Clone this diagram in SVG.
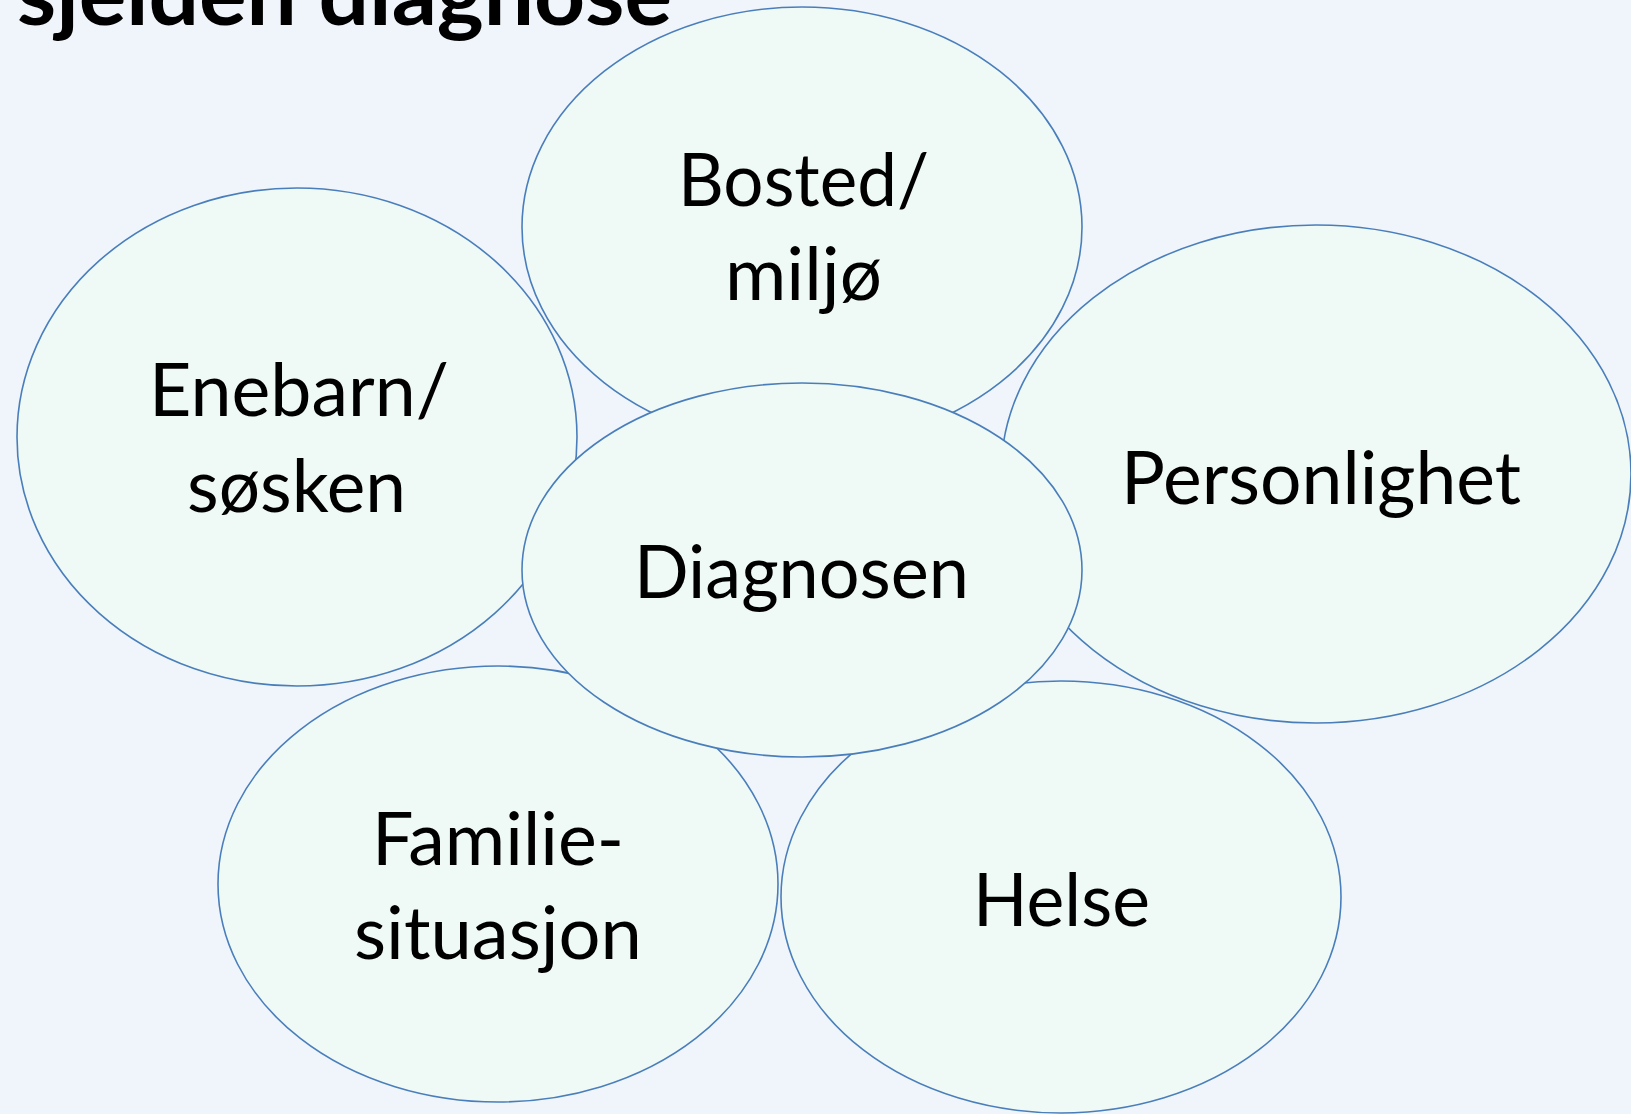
<svg xmlns="http://www.w3.org/2000/svg" width="1631" height="1114" viewBox="0 0 1631 1114">
<style>
.bg{fill:#eff5fa}
.node ellipse{fill:#effaf6;stroke:#4a7ebb;stroke-width:1.6}
.lbl{font-family:Lato,"Open Sans","Liberation Sans",sans-serif;font-size:74px;fill:#000;text-anchor:start}
.title{font-family:Lato,"Open Sans","Liberation Sans",sans-serif;font-size:86px;font-weight:bold;fill:#000}
</style>
<rect class="bg" x="0" y="0" width="1631" height="1114"/>
<text class="title" x="17" y="25" textLength="655" lengthAdjust="spacingAndGlyphs">sjelden diagnose</text>
<g id="connectors"></g>
<g id="node-bosted" class="node">
<ellipse cx="802" cy="227" rx="280" ry="220"/>
<text class="lbl" x="678" y="206" textLength="251" lengthAdjust="spacingAndGlyphs">Bosted/</text>
<text class="lbl" x="725" y="300" textLength="157" lengthAdjust="spacingAndGlyphs">miljø</text>
</g>
<g id="node-enebarn" class="node">
<ellipse cx="297" cy="437" rx="280" ry="249"/>
<text class="lbl" x="149" y="416" textLength="300" lengthAdjust="spacingAndGlyphs">Enebarn/</text>
<text class="lbl" x="187" y="512" textLength="219" lengthAdjust="spacingAndGlyphs">søsken</text>
</g>
<g id="node-personlighet" class="node">
<ellipse cx="1316" cy="474" rx="315" ry="249"/>
<text class="lbl" x="1121" y="504" textLength="400" lengthAdjust="spacingAndGlyphs">Personlighet</text>
</g>
<g id="node-familie" class="node">
<ellipse cx="498" cy="884" rx="280" ry="218"/>
<text class="lbl" x="372" y="865" textLength="252" lengthAdjust="spacingAndGlyphs">Familie-</text>
<text class="lbl" x="354" y="959" textLength="288" lengthAdjust="spacingAndGlyphs">situasjon</text>
</g>
<g id="node-helse" class="node">
<ellipse cx="1061" cy="897" rx="280" ry="216"/>
<text class="lbl" x="973" y="926" textLength="177" lengthAdjust="spacingAndGlyphs">Helse</text>
</g>
<g id="node-diagnosen" class="node">
<ellipse cx="802" cy="570" rx="280" ry="187"/>
<text class="lbl" x="634" y="598" textLength="335" lengthAdjust="spacingAndGlyphs">Diagnosen</text>
</g>
</svg>
